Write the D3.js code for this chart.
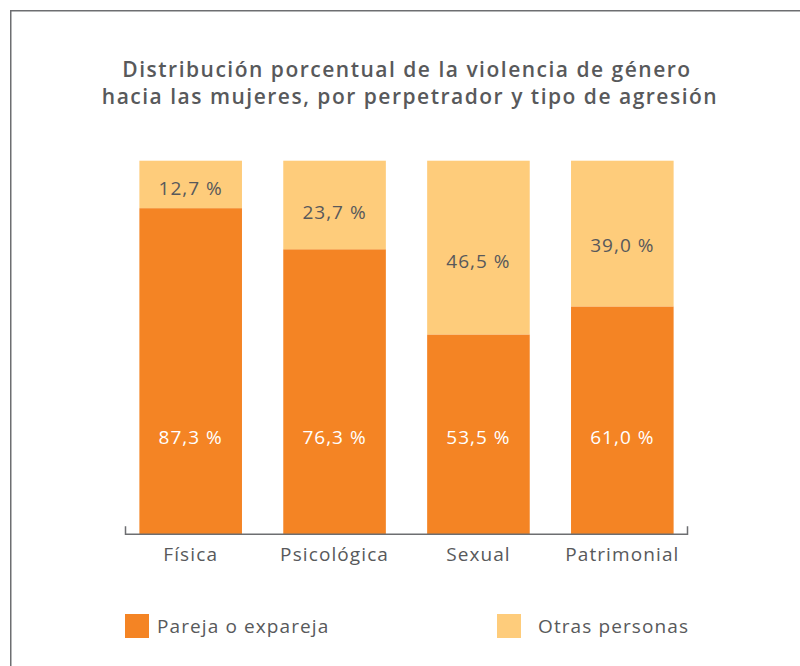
<!DOCTYPE html>
<html>
<head>
<meta charset="utf-8">
<script src="https://cdn.jsdelivr.net/npm/d3@7"></script>
<style>
  body { margin: 0; background: #fff; }
  text { font-family: "Open Sans", "Noto Sans", sans-serif; }
</style>
</head>
<body>
<div id="chart"></div>
<script>
var categories = ["Física", "Psicológica", "Sexual", "Patrimonial"]
var pareja = [87.3, 76.3, 53.5, 61.0]
var otras = [12.7, 23.7, 46.5, 39.0]
var seriesNames = ["Pareja o expareja", "Otras personas"]
var colors = ["#f48424", "#fecc7b"]

var width = 800,
  height = 666,
  textColor = "#58595b"

var svg = d3.select("#chart")
  .append("svg")
  .attr("width", width)
  .attr("height", height)

// frame
svg.append("path")
  .attr("d", "M10.75,666 V10.75 H800")
  .attr("fill", "none")
  .attr("stroke", "#6d6e71")
  .attr("stroke-width", 1.5)

// title
var title = svg.append("text")
  .attr("text-anchor", "middle")
  .attr("fill", textColor)
  .style("font-size", "21px")
  .style("font-weight", 600)
  .style("letter-spacing", "1.5px")
title.append("tspan").attr("x", 407).attr("y", 77).text("Distribución porcentual de la violencia de género")
title.append("tspan").attr("x", 410).attr("y", 104).text("hacia las mujeres, por perpetrador y tipo de agresión")

var x = d3.scaleBand()
  .domain(categories)
  .range([125, 688])
  .paddingInner(0.287)
  .paddingOuter(0.1)

var y = d3.scaleLinear()
  .domain([0, 100])
  .range([534.3, 160.7])

var rows = categories.map(function (c, i) {
  return { cat: c, pareja: pareja[i], otras: otras[i] }
})

var stack = d3.stack().keys(["pareja", "otras"])(rows)

var groups = svg.append("g")
  .selectAll("g")
  .data(stack)
  .enter()
  .append("g")
  .attr("fill", function (d, i) { return colors[i] })

groups.selectAll("rect")
  .data(function (d) { return d })
  .enter()
  .append("rect")
  .attr("x", function (d) { return x(d.data.cat) })
  .attr("width", x.bandwidth())
  .attr("y", function (d) { return y(d[1]) })
  .attr("height", function (d) { return y(d[0]) - y(d[1]) })

function fmt(v) {
  return v.toFixed(1).replace(".", ",") + " %"
}

function label(sel) {
  sel.attr("text-anchor", "middle")
    .attr("dy", "0.35em")
    .style("font-size", "19px")
    .style("letter-spacing", "1px")
}

// labels for bottom segment
svg.append("g")
  .selectAll("text")
  .data(rows)
  .enter()
  .append("text")
  .attr("x", function (d) { return x(d.cat) + x.bandwidth() / 2 })
  .attr("y", y(26))
  .attr("fill", "#fff")
  .call(label)
  .text(function (d) { return fmt(d.pareja) })

// labels for top segment
svg.append("g")
  .selectAll("text")
  .data(rows)
  .enter()
  .append("text")
  .attr("x", function (d) { return x(d.cat) + x.bandwidth() / 2 })
  .attr("y", function (d) { return y(100 - d.otras * 0.58) })
  .attr("fill", textColor)
  .call(label)
  .text(function (d) { return fmt(d.otras) })

// axis
var axis = svg.append("g")
  .attr("transform", "translate(0," + y(0) + ")")
  .call(d3.axisBottom(x).tickSize(0).tickPadding(13))

axis.select(".domain")
  .attr("d", "M125.5,-8 V0 H687.5 V-8")
  .attr("stroke", "#6d6e71")
  .attr("stroke-width", 1.5)

axis.selectAll("text")
  .attr("fill", textColor)
  .style("font-size", "19px")
  .style("letter-spacing", "1.1px")
  .style("font-family", "'Open Sans', 'Noto Sans', sans-serif")

// legend
var legendX = [125, 497]
var legend = svg.append("g")
  .selectAll("g")
  .data(seriesNames)
  .enter()
  .append("g")
  .attr("transform", function (d, i) { return "translate(" + legendX[i] + ",614)" })

legend.append("rect")
  .attr("width", 24)
  .attr("height", 24)
  .attr("fill", function (d, i) { return colors[i] })

legend.append("text")
  .attr("x", function (d, i) { return i === 0 ? 32 : 41 })
  .attr("y", 19)
  .attr("fill", textColor)
  .style("font-size", "19px")
  .style("letter-spacing", "1.1px")
  .text(function (d) { return d })
</script>
</body>
</html>
